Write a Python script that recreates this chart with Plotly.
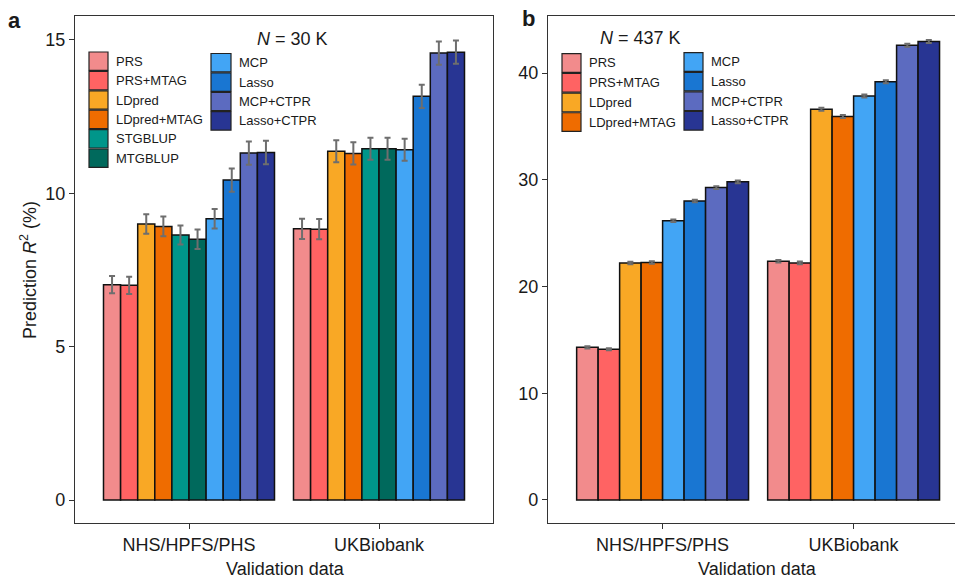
import plotly.graph_objects as go

W, H = 955, 579

# ---------------- data ----------------
groups = ["NHS/HPFS/PHS", "UKBiobank"]

methods_a = ["PRS", "PRS+MTAG", "LDpred", "LDpred+MTAG", "STGBLUP", "MTGBLUP",
             "MCP", "Lasso", "MCP+CTPR", "Lasso+CTPR"]
r2_a_nhs = [7.02, 7.00, 9.00, 8.92, 8.64, 8.50, 9.17, 10.43, 11.31, 11.33]
r2_a_ukb = [8.84, 8.83, 11.37, 11.30, 11.45, 11.45, 11.42, 13.16, 14.57, 14.60]
err_a_nhs = [0.28, 0.28, 0.32, 0.32, 0.31, 0.32, 0.32, 0.38, 0.38, 0.38]
err_a_ukb = [0.33, 0.33, 0.36, 0.36, 0.36, 0.36, 0.36, 0.38, 0.38, 0.38]

methods_b = ["PRS", "PRS+MTAG", "LDpred", "LDpred+MTAG", "MCP", "Lasso",
             "MCP+CTPR", "Lasso+CTPR"]
r2_b_nhs = [14.30, 14.12, 22.20, 22.25, 26.15, 28.00, 29.27, 29.80]
r2_b_ukb = [22.37, 22.21, 36.60, 35.93, 37.84, 39.18, 42.60, 42.95]
err_b_nhs = [0.10, 0.10, 0.12, 0.12, 0.12, 0.12, 0.13, 0.13]
err_b_ukb = [0.12, 0.12, 0.14, 0.14, 0.14, 0.14, 0.15, 0.15]

colors = {
    "PRS": "#F28B8C", "PRS+MTAG": "#FF6363", "LDpred": "#F9A825",
    "LDpred+MTAG": "#EF6C00", "STGBLUP": "#00968A", "MTGBLUP": "#00695C",
    "MCP": "#42A5F5", "Lasso": "#1976D2", "MCP+CTPR": "#5C6BC0",
    "Lasso+CTPR": "#283593",
}

FONT = "Liberation Sans, Arial, Helvetica, sans-serif"
TXT = "#1a1a1a"


def px(x):
    return x / W


def py(y):
    return 1 - y / H


fig = go.Figure()

for i, m in enumerate(methods_a):
    fig.add_trace(go.Bar(
        x=groups, y=[r2_a_nhs[i], r2_a_ukb[i]], name=m,
        marker=dict(color=colors[m], line=dict(color="#111111", width=1.5)),
        error_y=dict(type="data", array=[err_a_nhs[i], err_a_ukb[i]],
                     color="#6e6e6e", thickness=2, width=3),
        xaxis="x", yaxis="y", showlegend=False))

for i, m in enumerate(methods_b):
    fig.add_trace(go.Bar(
        x=groups, y=[r2_b_nhs[i], r2_b_ukb[i]], name=m,
        marker=dict(color=colors[m], line=dict(color="#111111", width=1.5)),
        error_y=dict(type="data", array=[err_b_nhs[i], err_b_ukb[i]],
                     color="#6e6e6e", thickness=2, width=3),
        xaxis="x2", yaxis="y2", showlegend=False))

ydom = [py(523), py(16)]
axis_common = dict(showgrid=False, zeroline=False, ticks="outside", ticklen=5,
                   tickwidth=1.2, tickcolor="#333333", linecolor="#333333",
                   linewidth=1.3, showline=True, automargin=False,
                   tickfont=dict(family=FONT, size=18, color=TXT))

fig.update_layout(
    width=W, height=H, margin=dict(l=0, r=0, t=0, b=0),
    paper_bgcolor="white", plot_bgcolor="white",
    barmode="group", bargap=0.1, bargroupgap=0,
    font=dict(family=FONT, color=TXT),
    xaxis=dict(domain=[px(75), px(493)], range=[-0.6, 1.6], mirror=True,
               type="category", **axis_common),
    yaxis=dict(domain=ydom, range=[-0.75, 15.78], mirror=True,
               tickvals=[0, 5, 10, 15], **axis_common),
    xaxis2=dict(domain=[px(548), 1.0], range=[-0.6, -0.6 + (W - 548) / 191.0],
                mirror=True, anchor="y2", type="category", **axis_common),
    yaxis2=dict(domain=ydom, range=[-2.16, 45.34], mirror=False, anchor="x2",
                tickvals=[0, 10, 20, 30, 40], **axis_common),
)

ann = []
# panel letters
ann.append(dict(x=px(14), y=py(20), text="<b>a</b>", font=dict(size=22)))
ann.append(dict(x=px(528), y=py(19), text="<b>b</b>", font=dict(size=22)))
# titles
ann.append(dict(x=px(292), y=py(39), text="<i>N</i> = 30 K", font=dict(size=18)))
ann.append(dict(x=px(640), y=py(38), text="<i>N</i> = 437 K", font=dict(size=18)))
# axis titles
ann.append(dict(x=px(28), y=py(270), text="Prediction <i>R</i><sup>2</sup> (%)",
                textangle=-90, font=dict(size=18)))
ann.append(dict(x=px(285), y=py(569), text="Validation data", font=dict(size=18)))
ann.append(dict(x=px(757), y=py(569), text="Validation data", font=dict(size=18)))

shapes = []


def legend_col(names, x0, x1, yc0, pitch):
    for k, m in enumerate(names):
        yc = yc0 + k * pitch
        shapes.append(dict(type="rect", xref="paper", yref="paper",
                           x0=px(x0), x1=px(x1), y0=py(yc + pitch / 2 - 0.5),
                           y1=py(yc - pitch / 2 + 0.5),
                           fillcolor=colors[m], line=dict(color="#222222", width=1.2)))
        ann.append(dict(x=px(x1 + 6), y=py(yc), text=m, xanchor="left",
                        font=dict(size=13)))


legend_col(methods_a[:6], 89, 108, 61.2, 19.4)
legend_col(methods_a[6:], 211, 231, 62.7, 19.4)
legend_col(methods_b[:4], 562, 581, 63, 19.7)
legend_col(methods_b[4:], 684, 703, 62, 19.6)

for a in ann:
    a.setdefault("xref", "paper")
    a.setdefault("yref", "paper")
    a.setdefault("showarrow", False)
    a.setdefault("xanchor", "center")
    a.setdefault("yanchor", "middle")
    f = a.get("font", {})
    f.setdefault("family", FONT)
    f.setdefault("color", TXT)
    a["font"] = f

fig.update_layout(annotations=ann, shapes=shapes)
fig.write_html("out.html")
